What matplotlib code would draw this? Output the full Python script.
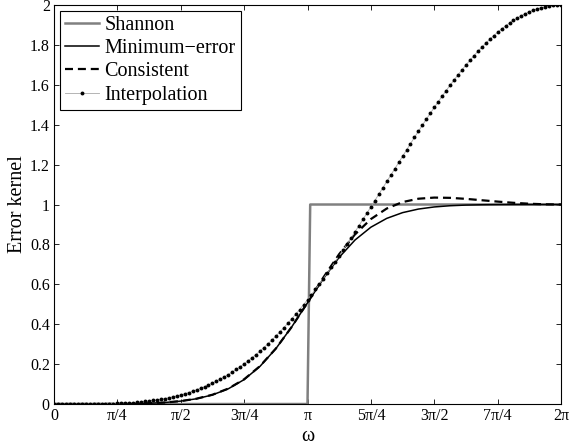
import numpy as np
import matplotlib
matplotlib.use("Agg")
import matplotlib.pyplot as plt

plt.rcParams['font.family'] = ['Liberation Serif', 'DejaVu Serif']

# fine grid (step pi/64) for the interpolation curve
w_fine = np.linspace(0, 2 * np.pi, 129)
interp = [0.0000, 0.0000, 0.0000, 0.0000, 0.0000, 0.0000, 0.0001, 0.0001, 0.0002, 0.0003,
          0.0005, 0.0007, 0.0010, 0.0014, 0.0018, 0.0024, 0.0031, 0.0039, 0.0049, 0.0061,
          0.0074, 0.0090, 0.0108, 0.0128, 0.0151, 0.0177, 0.0206, 0.0238, 0.0274, 0.0313,
          0.0356, 0.0404, 0.0455, 0.0511, 0.0572, 0.0638, 0.0709, 0.0785, 0.0866, 0.0953,
          0.1045, 0.1144, 0.1249, 0.1359, 0.1476, 0.1600, 0.1730, 0.1867, 0.2010, 0.2160,
          0.2317, 0.2481, 0.2651, 0.2829, 0.3013, 0.3205, 0.3403, 0.3608, 0.3820, 0.4038,
          0.4264, 0.4495, 0.4733, 0.4977, 0.5228, 0.5484, 0.5746, 0.6013, 0.6286, 0.6564,
          0.6847, 0.7135, 0.7426, 0.7722, 0.8022, 0.8325, 0.8631, 0.8941, 0.9252, 0.9566,
          0.9882, 1.0199, 1.0517, 1.0836, 1.1155, 1.1474, 1.1793, 1.2111, 1.2427, 1.2742,
          1.3055, 1.3365, 1.3672, 1.3977, 1.4277, 1.4573, 1.4865, 1.5152, 1.5434, 1.5711,
          1.5981, 1.6245, 1.6502, 1.6752, 1.6995, 1.7230, 1.7457, 1.7676, 1.7886, 1.8087,
          1.8280, 1.8463, 1.8636, 1.8800, 1.8953, 1.9097, 1.9230, 1.9353, 1.9466, 1.9567,
          1.9659, 1.9739, 1.9808, 1.9867, 1.9915, 1.9952, 1.9979, 1.9995, 2.0000]

# coarse grid (step pi/16) for the smooth curves
w_coarse = np.linspace(0, 2 * np.pi, 33)
min_error = [0.0000, 0.0000, 0.0000, 0.0002, 0.0006, 0.0016, 0.0037, 0.0076, 0.0145,
             0.0263, 0.0457, 0.0762, 0.1224, 0.1886, 0.2772, 0.3861, 0.5072, 0.6279,
             0.7355, 0.8222, 0.8863, 0.9305, 0.9593, 0.9772, 0.9878, 0.9939, 0.9972,
             0.9988, 0.9996, 0.9999, 1.0000, 1.0000, 1.0000]
consistent = [0.0000, 0.0000, 0.0000, 0.0002, 0.0006, 0.0016, 0.0037, 0.0076, 0.0146,
              0.0267, 0.0464, 0.0773, 0.1239, 0.1900, 0.2779, 0.3861, 0.5083, 0.6341,
              0.7514, 0.8507, 0.9270, 0.9798, 1.0123, 1.0290, 1.0347, 1.0334, 1.0283,
              1.0214, 1.0146, 1.0085, 1.0039, 1.0010, 1.0000]

shannon_w = [0, 3.1416, 3.175, 6.2832]
shannon = [0, 0, 1, 1]

xtick_labels = ['0', 'π/4', 'π/2', '3π/4', 'π', '5π/4', '3π/2', '7π/4', '2π']
ytick_labels = ['0', '0.2', '0.4', '0.6', '0.8', '1', '1.2', '1.4', '1.6', '1.8', '2']

fig = plt.figure(figsize=(5.72, 4.48), dpi=100)
ax = fig.add_axes([0.0944, 0.0982, 0.8864, 0.8906])

ax.plot(shannon_w, shannon, color='#808080', lw=1.8, label='Shannon')
ax.plot(w_coarse, min_error, color='black', lw=1.1, label='Minimum\u2212error')
ax.plot(w_coarse, consistent, color='black', lw=1.6, dashes=(3.6, 2.2), label='Consistent')
ax.plot(w_fine, interp, color='#a8a8a8', lw=0.6, marker='o', markersize=2.8,
        markerfacecolor='black', markeredgewidth=0, label='Interpolation')

ax.set_xlim(0, 2 * np.pi)
ax.set_ylim(0, 2)
ax.set_xticks(np.linspace(0, 2 * np.pi, 9))
ax.set_xticklabels(xtick_labels)
ax.set_yticks(np.linspace(0, 2, 11))
ax.set_yticklabels(ytick_labels)
ax.tick_params(direction='in', top=True, right=True, length=3.6, width=0.6,
               labelsize=11.5, pad=3)
for s in ax.spines.values():
    s.set_linewidth(0.8)

ax.set_xlabel('ω', fontsize=14.5, labelpad=2)
ax.set_ylabel('Error kernel', fontsize=14.5, labelpad=2)

leg = ax.legend(loc='upper left', fontsize=14.5, handlelength=1.7, handletextpad=0.25,
                labelspacing=0.2, borderpad=0.25, borderaxespad=0.3, fancybox=False,
                framealpha=1, edgecolor='black')
leg.get_frame().set_linewidth(0.8)

fig.savefig('out.png', dpi=100)
